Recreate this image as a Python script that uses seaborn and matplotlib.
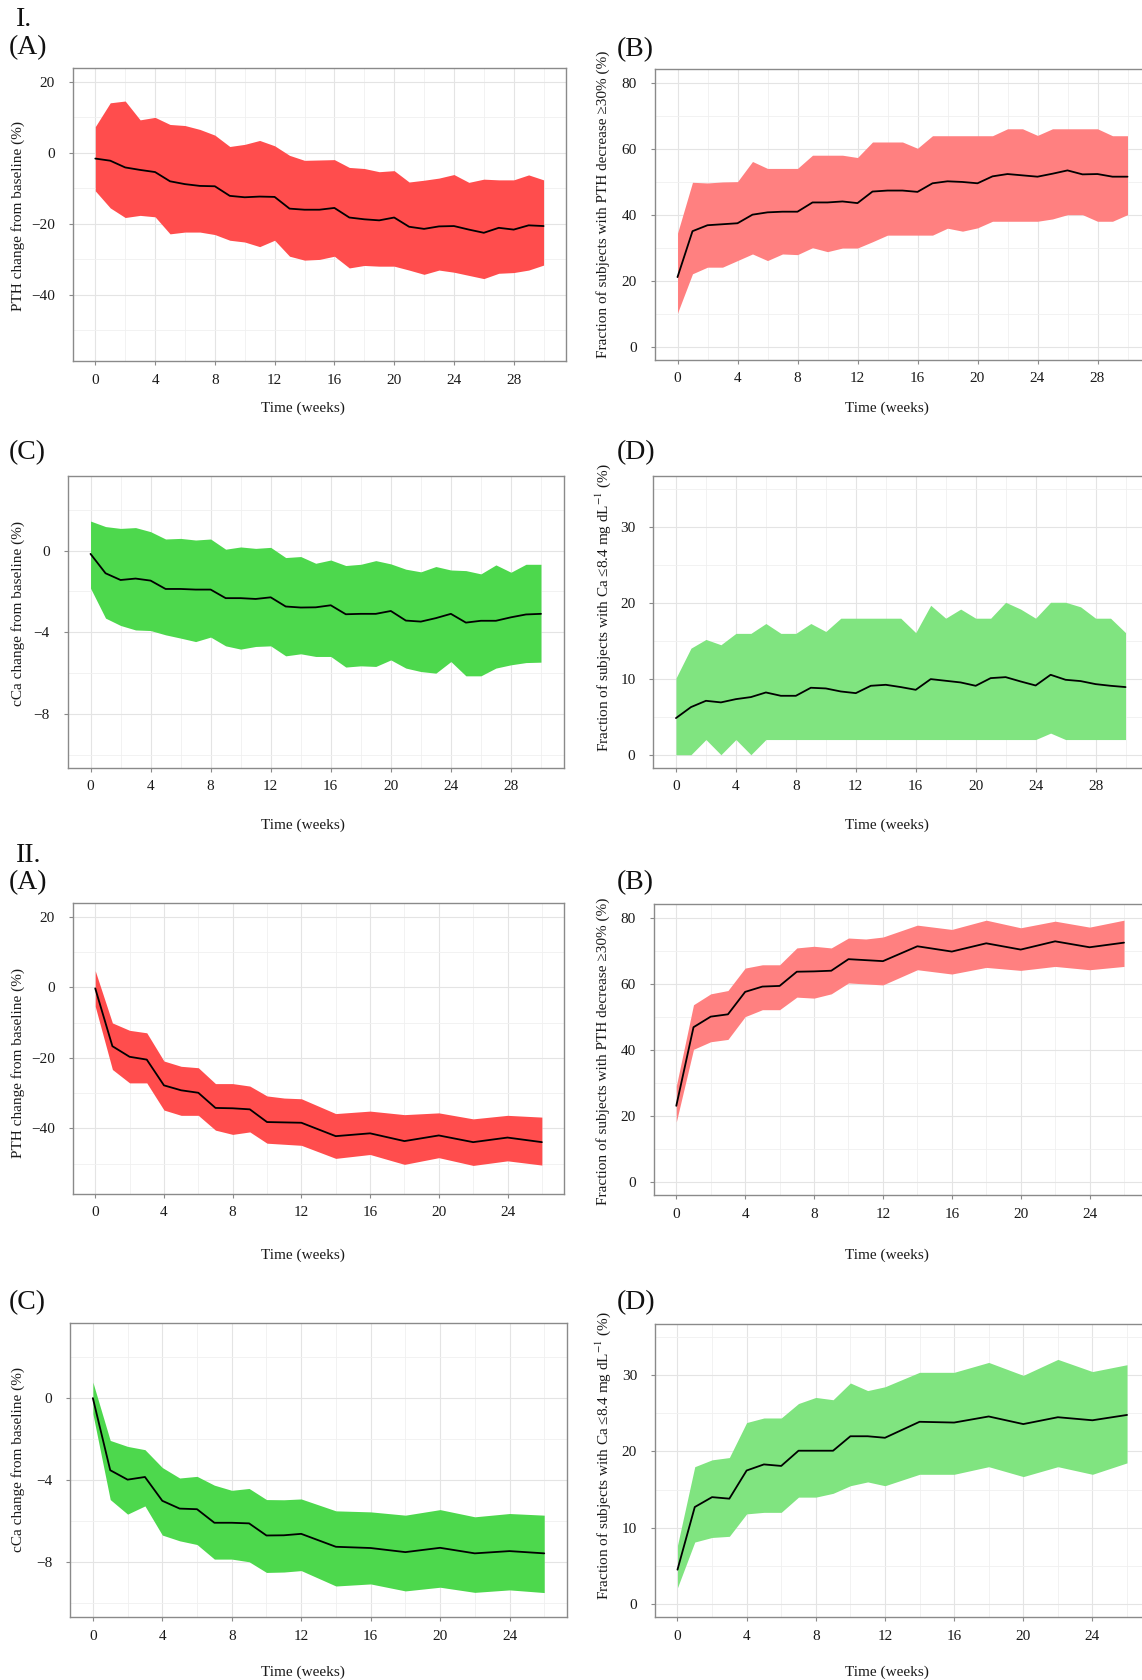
import numpy as np
import pandas as pd
import matplotlib
matplotlib.use("Agg")
import matplotlib.pyplot as plt
import seaborn as sns
from matplotlib.ticker import MultipleLocator

# ---------------- data ----------------
weeks_I = list(range(31))
weeks_II = [0, 1, 2, 3, 4, 5, 6, 7, 8, 9, 10, 11, 12, 14, 16, 18, 20, 22, 24, 26]

I_A_med = [-1.6, -2.2, -4.1, -4.8, -5.4, -8.0, -8.8, -9.3, -9.4, -12.1, -12.5, -12.3, -12.4, -15.7, -16.0, -16.0,
           -15.5, -18.2, -18.7, -19.0, -18.2, -20.8, -21.4, -20.7, -20.6, -21.6, -22.5, -21.1, -21.6, -20.4, -20.6]
I_A_hi = [7.4, 14.1, 14.6, 9.3, 10.0, 8.0, 7.7, 6.6, 5.0, 1.8, 2.4, 3.5, 2.0, -0.7, -2.1, -2.0, -1.9, -4.1, -4.4,
          -5.3, -5.0, -8.2, -7.7, -7.1, -6.1, -8.3, -7.4, -7.6, -7.6, -6.2, -7.6]
I_A_lo = [-10.7, -15.5, -18.2, -17.6, -18.0, -22.8, -22.3, -22.3, -23.0, -24.6, -25.1, -26.4, -24.6, -29.1, -30.2,
          -30.0, -29.1, -32.4, -31.7, -31.9, -31.9, -33.0, -34.2, -33.0, -33.6, -34.5, -35.4, -33.9, -33.7, -33.0, -31.6]

I_B_med = [21.2, 35.1, 36.9, 37.2, 37.5, 40.1, 40.8, 41.0, 41.0, 43.8, 43.8, 44.1, 43.6, 47.1, 47.4, 47.4, 47.0,
           49.6, 50.2, 50.0, 49.6, 51.7, 52.4, 52.0, 51.6, 52.5, 53.5, 52.3, 52.4, 51.6, 51.6]
I_B_hi = [34.5, 49.9, 49.7, 50.0, 50.1, 56.2, 54.1, 54.1, 54.1, 58.1, 58.1, 58.1, 57.4, 62.1, 62.1, 62.1, 60.2,
          64.0, 64.0, 64.0, 64.0, 64.0, 66.1, 66.1, 64.1, 66.1, 66.1, 66.1, 66.1, 64.0, 64.0]
I_B_lo = [10.3, 22.2, 24.2, 24.2, 26.2, 28.2, 26.2, 28.2, 28.0, 30.1, 28.9, 30.0, 30.0, 31.9, 33.9, 33.9, 33.9,
          33.9, 36.0, 35.1, 36.1, 38.1, 38.1, 38.1, 38.1, 38.8, 40.1, 40.1, 38.1, 38.1, 40.1]

I_C_med = [-0.16, -1.11, -1.44, -1.37, -1.47, -1.88, -1.88, -1.91, -1.91, -2.33, -2.33, -2.37, -2.29, -2.74, -2.79,
           -2.78, -2.68, -3.12, -3.10, -3.10, -2.96, -3.43, -3.48, -3.31, -3.10, -3.53, -3.44, -3.44, -3.27, -3.13, -3.10]
I_C_hi = [1.45, 1.18, 1.09, 1.13, 0.93, 0.57, 0.60, 0.52, 0.57, 0.07, 0.18, 0.11, 0.16, -0.34, -0.29, -0.62, -0.46,
          -0.73, -0.67, -0.49, -0.65, -0.91, -1.04, -0.78, -0.95, -0.98, -1.14, -0.70, -1.06, -0.67, -0.67]
I_C_lo = [-1.84, -3.31, -3.67, -3.89, -3.92, -4.13, -4.29, -4.46, -4.24, -4.67, -4.83, -4.70, -4.67, -5.16, -5.06,
          -5.19, -5.19, -5.71, -5.65, -5.68, -5.36, -5.76, -5.93, -6.01, -5.44, -6.14, -6.14, -5.76, -5.60, -5.49, -5.47]

I_D_med = [4.83, 6.28, 7.11, 6.90, 7.33, 7.60, 8.21, 7.77, 7.77, 8.83, 8.74, 8.34, 8.12, 9.09, 9.22, 8.92, 8.56,
           9.97, 9.75, 9.53, 9.09, 10.10, 10.23, 9.66, 9.13, 10.54, 9.88, 9.71, 9.31, 9.09, 8.92]
I_D_hi = [10.1, 14.05, 15.2, 14.5, 16.0, 16.0, 17.3, 16.0, 16.0, 17.3, 16.25, 18.0, 18.0, 18.0, 18.0, 18.0, 16.1,
          19.7, 18.0, 19.2, 18.0, 18.0, 20.1, 19.2, 18.0, 20.1, 20.1, 19.5, 18.0, 18.0, 16.1]
I_D_lo = [0, 0, 2, 0, 2, 0, 2, 2, 2, 2, 2, 2, 2, 2, 2, 2, 2, 2, 2, 2, 2, 2, 2, 2, 2, 2.85, 2, 2, 2, 2, 2]

II_A_med = [-0.3, -16.7, -19.7, -20.5, -27.8, -29.2, -29.9, -34.2, -34.3, -34.6, -38.2, -38.3, -38.4, -42.2, -41.4,
            -43.6, -42.0, -43.9, -42.6, -43.9]
II_A_hi = [4.7, -10.1, -12.2, -12.9, -20.9, -22.4, -22.8, -27.3, -27.3, -28.0, -30.8, -31.4, -31.6, -35.8, -35.1,
           -36.1, -35.6, -37.3, -36.3, -36.8]
II_A_lo = [-5.4, -23.3, -27.1, -27.1, -34.8, -36.3, -36.3, -40.5, -41.7, -41.0, -44.2, -44.5, -44.8, -48.5, -47.4,
           -50.2, -48.3, -50.5, -49.2, -50.4]

II_B_med = [23.1, 46.9, 50.1, 50.8, 57.6, 59.2, 59.4, 63.7, 63.8, 64.0, 67.5, 67.2, 66.9, 71.4, 69.8, 72.3, 70.4,
            72.9, 71.1, 72.5]
II_B_hi = [29.1, 53.7, 57.0, 58.0, 64.8, 65.8, 65.8, 70.9, 71.4, 70.9, 73.9, 73.6, 74.2, 77.8, 76.5, 79.3, 77.0,
           79.0, 77.2, 79.3]
II_B_lo = [18.2, 40.2, 42.5, 43.2, 50.1, 52.2, 52.2, 56.0, 55.7, 57.0, 60.3, 60.0, 59.7, 64.3, 63.0, 65.0, 64.1,
           65.3, 64.3, 65.3]

II_C_med = [0.0, -3.51, -3.97, -3.84, -5.0, -5.38, -5.41, -6.07, -6.07, -6.10, -6.69, -6.68, -6.61, -7.24, -7.30,
            -7.50, -7.29, -7.56, -7.45, -7.56]
II_C_hi = [0.78, -2.06, -2.35, -2.51, -3.38, -3.89, -3.81, -4.24, -4.49, -4.40, -4.94, -4.95, -4.91, -5.49, -5.54,
           -5.70, -5.43, -5.78, -5.62, -5.70]
II_C_lo = [-0.76, -4.94, -5.65, -5.25, -6.67, -6.95, -7.13, -7.84, -7.84, -7.97, -8.49, -8.47, -8.40, -9.15, -9.05,
           -9.39, -9.21, -9.46, -9.34, -9.47]

II_D_med = [4.47, 12.7, 14.0, 13.8, 17.5, 18.3, 18.1, 20.1, 20.1, 20.1, 22.0, 22.0, 21.8, 23.9, 23.8, 24.6, 23.6,
            24.5, 24.1, 24.8]
II_D_hi = [7.67, 18.0, 18.9, 19.2, 23.8, 24.4, 24.4, 26.3, 27.1, 26.8, 29.0, 28.0, 28.5, 30.4, 30.4, 31.7, 30.0,
           32.1, 30.5, 31.4]
II_D_lo = [2.1, 8.1, 8.7, 8.85, 11.8, 12.0, 12.0, 14.0, 14.0, 14.5, 15.5, 16.0, 15.5, 17.0, 17.0, 18.0, 16.7,
           18.0, 17.0, 18.5]

xlabel = "Time (weeks)"
ylab_pth = "PTH change from baseline (%)"
ylab_pthfrac = "Fraction of subjects with PTH decrease \u226530% (%)"
ylab_cca = "cCa change from baseline (%)"
ylab_cafrac = "Fraction of subjects with Ca \u22648.4 mg dL$^{-1}$ (%)"

# ---------------- style ----------------
W, H, DPI = 1142, 1680, 100
sns.set_theme(style="white")
plt.rcParams['font.family'] = ['Liberation Serif', 'DejaVu Serif']
plt.rcParams['mathtext.fontset'] = 'stix'
plt.rcParams['axes.unicode_minus'] = True

RED_D, RED_L = "#FF4D4D", "#FF8080"
GRN_D, GRN_L = "#4DD84D", "#80E480"
EDGE = "#8a8a8a"

fig = plt.figure(figsize=(W / DPI, H / DPI), dpi=DPI)
fig.patch.set_facecolor("white")


def panel(box, x, med, lo, hi, fill, ylim, ymaj, xlim, xmaj, ylab, ylab_xy, xlab_xy):
    l, r, t, b = box
    ax = fig.add_axes([l / W, 1 - b / H, (r - l) / W, (b - t) / H])
    ax.set_facecolor("white")
    ax.fill_between(x, lo, hi, color=fill, lw=0, zorder=2)
    sns.lineplot(x=x, y=med, ax=ax, color="black", lw=1.3, estimator=None, zorder=3)
    ax.set_xlim(*xlim)
    ax.set_ylim(*ylim)
    ax.xaxis.set_major_locator(MultipleLocator(xmaj))
    ax.xaxis.set_minor_locator(MultipleLocator(xmaj / 2))
    ax.yaxis.set_major_locator(MultipleLocator(ymaj))
    ax.yaxis.set_minor_locator(MultipleLocator(ymaj / 2))
    ax.grid(which="major", color="#e4e4e4", lw=0.8, zorder=0)
    ax.grid(which="minor", color="#f0f0f0", lw=0.6, zorder=0)
    ax.set_axisbelow(True)
    for s in ax.spines.values():
        s.set_color(EDGE)
        s.set_linewidth(1.0)
        s.set_visible(True)
    ax.tick_params(which="major", direction="out", length=3, width=0.8, color=EDGE,
                   labelsize=11, labelcolor="#1a1a1a", bottom=True, left=True)
    ax.tick_params(axis="y", pad=10)
    ax.tick_params(axis="x", pad=6)
    ax.tick_params(which="minor", length=0)
    ax.set_xlabel("")
    ax.set_ylabel("")
    fig.text(xlab_xy[0] / W, 1 - xlab_xy[1] / H, xlabel, ha="center", va="center", fontsize=11, color="#1a1a1a")
    fig.text(ylab_xy[0] / W, 1 - ylab_xy[1] / H, ylab, ha="center", va="center", rotation=90,
             fontsize=11, color="#1a1a1a")
    return ax


XL_I, XL_II = (-1.5, 31.5), (-1.3, 27.3)
YL_PTH, YL_FR, YL_CCA, YL_CA = (-58.6, 23.9), (-3.9, 84.2), (-10.66, 3.66), (-1.75, 36.75)

panel((72.9, 566, 68, 361), weeks_I, I_A_med, I_A_lo, I_A_hi, RED_D, YL_PTH, 20, XL_I, 4,
      ylab_pth, (18.5, 216), (303, 408))
panel((655, 1150, 69, 360), weeks_I, I_B_med, I_B_lo, I_B_hi, RED_L, YL_FR, 20, XL_I, 4,
      ylab_pthfrac, (603, 204), (887, 408))
panel((68, 563.5, 476, 768), weeks_I, I_C_med, I_C_lo, I_C_hi, GRN_D, YL_CCA, 4, XL_I, 4,
      ylab_cca, (18.5, 614), (303, 825))
panel((653.5, 1148, 476, 768), weeks_I, I_D_med, I_D_lo, I_D_hi, GRN_L, YL_CA, 10, XL_I, 4,
      ylab_cafrac, (603, 608), (887, 825))
panel((72.9, 564.2, 903, 1194), weeks_II, II_A_med, II_A_lo, II_A_hi, RED_D, YL_PTH, 20, XL_II, 4,
      ylab_pth, (18.5, 1063), (303, 1255))
panel((653.9, 1146.4, 904, 1195), weeks_II, II_B_med, II_B_lo, II_B_hi, RED_L, YL_FR, 20, XL_II, 4,
      ylab_pthfrac, (603, 1051), (887, 1255))
panel((70.3, 566.8, 1323, 1617), weeks_II, II_C_med, II_C_lo, II_C_hi, GRN_D, YL_CCA, 4, XL_II, 4,
      ylab_cca, (18.5, 1460), (303, 1672))
panel((655, 1149.5, 1324, 1617), weeks_II, II_D_med, II_D_lo, II_D_hi, GRN_L, YL_CA, 10, XL_II, 4,
      ylab_cafrac, (603, 1456), (887, 1672))

# panel letters
def letter(x, y, s):
    fig.text(x / W, 1 - y / H, s, ha="left", va="center", fontsize=20, color="#111111")

letter(16, 20, "I.")
letter(9, 48, "(A)")
letter(617, 50, "(B)")
letter(9, 453, "(C)")
letter(617, 453, "(D)")
letter(16, 855, "II.")
letter(9, 883, "(A)")
letter(617, 883, "(B)")
letter(9, 1303, "(C)")
letter(617, 1303, "(D)")

fig.savefig("out.png", dpi=DPI, facecolor="white")
